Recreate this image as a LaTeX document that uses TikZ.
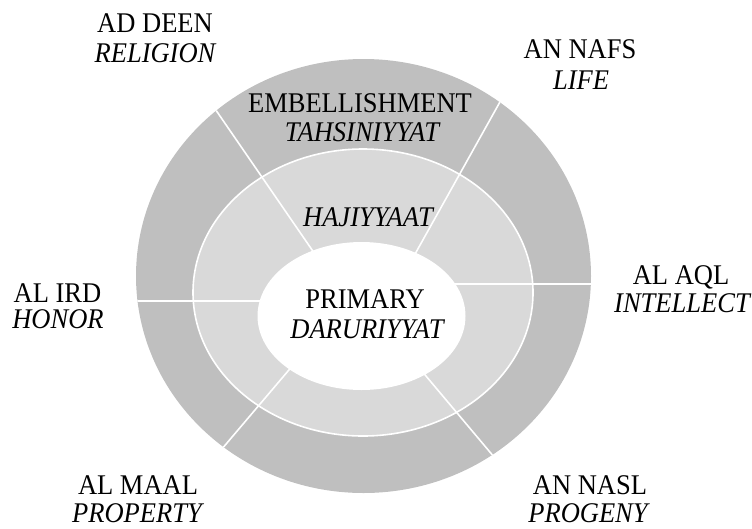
\documentclass[tikz,border=0pt]{standalone}
\usepackage{fontspec}
\setmainfont{Liberation Serif}[FakeStretch=0.93]
\definecolor{ringdark}{HTML}{BFBFBF}
\definecolor{ringlight}{HTML}{D9D9D9}
\begin{document}
\begin{tikzpicture}[x=1pt,y=-1pt,
  lbl/.style={font=\fontsize{28.5}{32}\selectfont, inner sep=0pt, anchor=base},
  itl/.style={font=\fontsize{28.5}{32}\selectfont\itshape, inner sep=0pt, anchor=base},
  divider/.style={white, line width=1.6pt}]
\useasboundingbox (0,0) rectangle (752,528);
% rings
\fill[ringdark] (363.5,276) ellipse [x radius=227.5pt, y radius=217pt];
\begin{scope}
  \clip (363.5,276) ellipse [x radius=227.5pt, y radius=217pt];
  \fill[ringlight, draw=white, line width=1.6pt] (363,292.5) ellipse [x radius=170pt, y radius=143.5pt];
  \coordinate (d1a) at (200,87);  \coordinate (d1b) at (330,276);
  \coordinate (d2a) at (515,75);  \coordinate (d2b) at (405,272);
  \coordinate (d3a) at (440,284); \coordinate (d3b) at (600,284);
  \coordinate (d4a) at (125,301); \coordinate (d4b) at (280,301);
  \coordinate (d5a) at (305,351); \coordinate (d5b) at (210,463);
  \coordinate (d6a) at (410,357); \coordinate (d6b) at (505,470);
  \draw[divider] (d1a) -- (d1b);
  \draw[divider] (d2a) -- (d2b);
  \draw[divider] (d3a) -- (d3b);
  \draw[divider] (d4a) -- (d4b);
  \draw[divider] (d5a) -- (d5b);
  \draw[divider] (d6a) -- (d6b);
\end{scope}
\fill[white] (361.5,316) ellipse [x radius=104pt, y radius=74pt];
% inner labels
\node[lbl] (emb) at (360,112) {EMBELLISHMENT};
\node[itl] (tah) at (362,141.5) {TAHSINIYYAT};
\node[itl] (haj) at (368,226.5) {HAJIYYAAT};
\node[lbl] (pri) at (365,308) {PRIMARY};
\node[itl] (dar) at (367,338) {DARURIYYAT};
% outer labels
\node[lbl] (deen) at (155,32) {AD DEEN};
\node[itl] (rel) at (155,62) {RELIGION};
\node[lbl] (nafs) at (580,58.5) {AN NAFS};
\node[itl] (life) at (581,89) {LIFE};
\node[lbl] (ird) at (57.5,302) {AL IRD};
\node[itl] (hon) at (58,328) {HONOR};
\node[lbl] (aql) at (681,284.5) {AL AQL};
\node[itl] (int) at (682,312) {INTELLECT};
\node[lbl] (maal) at (138,494) {AL MAAL};
\node[itl] (prop) at (137,522) {PROPERTY};
\node[lbl] (nasl) at (590,494) {AN NASL};
\node[itl] (prog) at (588,522) {PROGENY};
\end{tikzpicture}
\end{document}
